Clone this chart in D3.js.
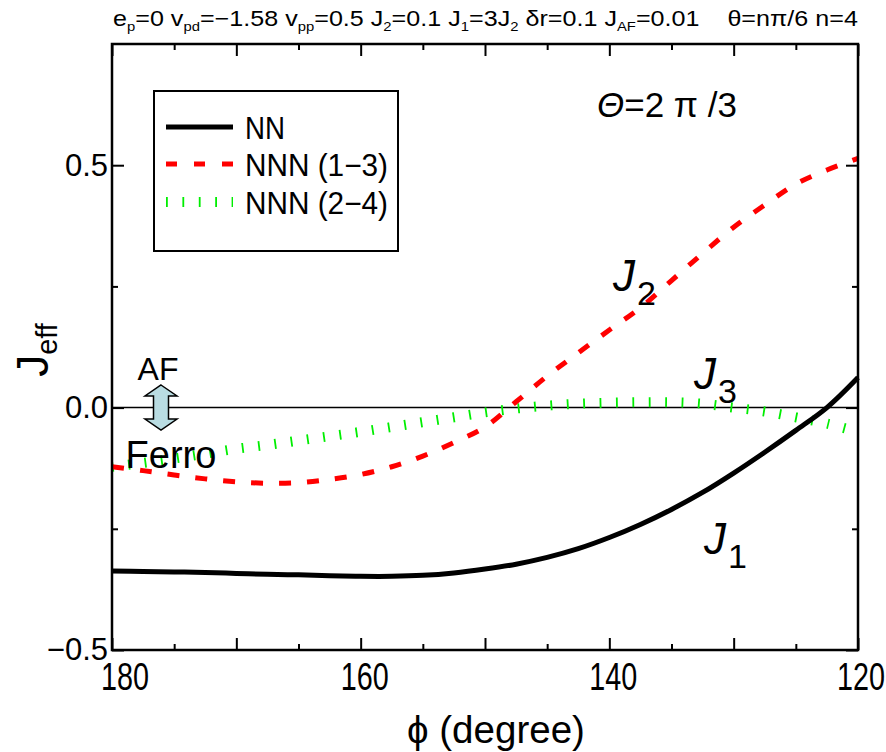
<!DOCTYPE html>
<html>
<head>
<meta charset="utf-8">
<script src="https://cdn.jsdelivr.net/npm/d3@7"></script>
<style>
  html, body { margin: 0; padding: 0; background: #fff; }
  svg { display: block; }
  text { font-family: "Liberation Sans", Arial, sans-serif; fill: #000; white-space: pre; }
</style>
</head>
<body>
<svg id="chart" width="886" height="752"></svg>
<script>
// Angle phi (degree) at which the effective couplings are sampled
const phi = [180, 177.5, 175, 172.5, 170, 167.5, 165, 162.5, 160, 157.5, 155, 152.5,
             150, 147.5, 145, 142.5, 140, 137.5, 135, 132.5, 130, 127.5, 125, 122.5, 120];

// NN coupling J1
const jNN = [-0.337, -0.338, -0.339, -0.340, -0.342, -0.344, -0.345, -0.347, -0.348, -0.348,
             -0.346, -0.341, -0.333, -0.323, -0.309, -0.291, -0.268, -0.241, -0.210, -0.175,
             -0.135, -0.092, -0.047, 0.000, 0.062];

// NNN (1-3) coupling J2
const jNNN13 = [-0.122, -0.130, -0.139, -0.147, -0.153, -0.156, -0.155, -0.148, -0.138, -0.122,
                -0.100, -0.072, -0.040, 0.012, 0.065, 0.113, 0.160, 0.206, 0.262, 0.318,
                0.372, 0.418, 0.461, 0.490, 0.514];

// NNN (2-4) coupling J3
const jNNN24 = [-0.122, -0.114, -0.105, -0.095, -0.085, -0.077, -0.068, -0.059, -0.050, -0.040,
                -0.030, -0.020, -0.010, -0.002, 0.004, 0.008, 0.010, 0.011, 0.011, 0.008,
                0.000, -0.008, -0.020, -0.033, -0.050];

const seriesNames = ["NN", "NNN (1\u22123)", "NNN (2\u22124)"];
const xMajorTicks = [180, 170, 160, 150, 140, 130, 120];
const xMinorTicks = [175, 165, 155, 145, 135, 125];
const xTickLabels = [180, 160, 140, 120];
const yMajorTicks = [-0.5, 0, 0.5];
const yMinorTicks = [-0.25, 0.25];

const svg = d3.select("#chart");
const plotLeft = 112, plotRight = 858, plotTop = 44, plotBottom = 650;

const x = d3.scaleLinear().domain([180, 120]).range([plotLeft, plotRight]);
const y = d3.scaleLinear().domain([-0.5, 0.75]).range([plotBottom, plotTop]);

const styles = [
  { color: "#000000", width: 5, dash: null },
  { color: "#ff0000", width: 5, dash: "12,16" },
  { color: "#00ee00", width: 10, dash: "1.8,14.6" }
];
const series = [jNN, jNNN13, jNNN24];

// zero line
svg.append("line")
  .attr("x1", x(180)).attr("x2", x(120))
  .attr("y1", y(0)).attr("y2", y(0))
  .attr("stroke", "#000").attr("stroke-width", 1.5);

// curves
const line = d3.line()
  .x(d => x(d[0]))
  .y(d => y(d[1]))
  .curve(d3.curveCatmullRom.alpha(0.5));

const curves = svg.append("g");
[2, 1, 0].forEach(i => {
  const pts = phi.map((p, k) => [p, series[i][k]]);
  curves.append("path")
    .datum(pts)
    .attr("d", line)
    .attr("fill", "none")
    .attr("stroke", styles[i].color)
    .attr("stroke-width", styles[i].width)
    .attr("stroke-dasharray", styles[i].dash)
    .attr("stroke-linejoin", "round");
});

// axes: ticks point inward on all four sides
const axG = svg.append("g");
function tickAxis(axis, transform, values, size) {
  axG.append("g").attr("transform", transform)
    .call(axis.tickValues(values).tickSize(size).tickFormat(""))
    .call(g => g.select(".domain").remove())
    .call(g => g.selectAll("line").attr("stroke", "#000").attr("stroke-width", 2));
}
tickAxis(d3.axisBottom(x), `translate(0,${plotBottom})`, xMajorTicks, -12);
tickAxis(d3.axisBottom(x), `translate(0,${plotBottom})`, xMinorTicks, -6);
tickAxis(d3.axisTop(x), `translate(0,${plotTop})`, xMajorTicks, -12);
tickAxis(d3.axisTop(x), `translate(0,${plotTop})`, xMinorTicks, -6);
tickAxis(d3.axisLeft(y), `translate(${plotLeft},0)`, yMajorTicks, -12);
tickAxis(d3.axisLeft(y), `translate(${plotLeft},0)`, yMinorTicks, -6);
tickAxis(d3.axisRight(y), `translate(${plotRight},0)`, yMajorTicks, -12);
tickAxis(d3.axisRight(y), `translate(${plotRight},0)`, yMinorTicks, -6);

// frame
svg.append("rect")
  .attr("x", plotLeft).attr("y", plotTop)
  .attr("width", plotRight - plotLeft).attr("height", plotBottom - plotTop)
  .attr("fill", "none").attr("stroke", "#000").attr("stroke-width", 2.5);

// y tick labels
const yLab = svg.append("g").attr("transform", `translate(${plotLeft - 4},0)`)
  .call(d3.axisLeft(y).tickValues(yMajorTicks).tickSize(0).tickPadding(0)
        .tickFormat(d3.format(".1f")));
yLab.select(".domain").remove();
yLab.selectAll("text")
  .style("font-family", "'Liberation Sans', Arial, sans-serif")
  .attr("font-size", 31).attr("fill", "#000");

// horizontally compressed text helper (narrow gothic look)
function narrowText(g, str, cx, baseline, size, width, anchor) {
  const t = g.append("text").attr("font-size", size).attr("x", 0).attr("y", 0).text(str);
  const w = t.node().getComputedTextLength();
  const s = width / w;
  let x0 = cx;
  if (anchor === "middle") x0 = cx - width / 2;
  if (anchor === "end") x0 = cx - width;
  t.attr("transform", `translate(${x0},${baseline}) scale(${s},1)`);
  return t;
}

// x tick labels
const xl = svg.append("g");
const xLabelShift = { 180: 13, 160: 4, 140: 4, 120: 3 };
xTickLabels.forEach(v => {
  narrowText(xl, String(v), x(v) + xLabelShift[v], 690, 38, 48, "middle");
});

// x axis title
narrowText(svg, "\u03d5 (degree)", 496, 743, 38, 178, "middle");

// y axis title
const yt = svg.append("text")
  .attr("transform", "translate(48,350) rotate(-90)")
  .attr("text-anchor", "middle");
yt.append("tspan").attr("font-size", 44).text("J");
yt.append("tspan").attr("font-size", 29).attr("dy", 9).text("eff");

// parameter line at the top
const title = svg.append("text").attr("font-size", 22);
const parts = [
  ["e", 0], ["p", 1], ["=0 v", 0], ["pd", 1], ["=\u22121.58 v", 0], ["pp", 1], ["=0.5 J", 0], ["2", 1],
  ["=0.1 J", 0], ["1", 1], ["=3J", 0], ["2", 1], [" \u03b4r=0.1 J", 0], ["AF", 1], ["=0.01    \u03b8=n\u03c0/6 n=4", 0]
];
let prevSub = 0;
parts.forEach(([s, sub]) => {
  const ts = title.append("tspan").text(s);
  if (sub) ts.attr("font-size", 13);
  const dy = (sub ? 5 : 0) - prevSub;
  if (dy) ts.attr("dy", dy);
  prevSub = sub ? 5 : 0;
});
{
  const w = title.node().getComputedTextLength();
  title.attr("transform", `translate(113,26) scale(${745 / w},1)`);
}

// legend
const leg = svg.append("g");
leg.append("rect").attr("x", 154).attr("y", 91).attr("width", 244).attr("height", 160)
  .attr("fill", "#fff").attr("stroke", "#000").attr("stroke-width", 2);
const legY = [127, 164, 202];
seriesNames.forEach((name, i) => {
  const ly = legY[i];
  leg.append("path")
    .attr("d", d3.line()([[166, ly], [233, ly]]))
    .attr("fill", "none")
    .attr("stroke", styles[i].color)
    .attr("stroke-width", styles[i].width)
    .attr("stroke-dasharray", i === 1 ? "11,17" : (i === 2 ? "1.8,14.6" : null));
  const tw = [40, 143, 143][i];
  narrowText(leg, name, 245, ly + 12, 31, tw, "start");
});

// panel label
const th = svg.append("text").attr("x", 597).attr("y", 117).attr("font-size", 35);
th.append("tspan").attr("font-style", "italic").text("\u0398");
th.append("tspan").text("=2 \u03c0 /3");

// coupling labels
function jLabel(px, py, sub) {
  const t = svg.append("text").attr("x", px).attr("y", py).attr("font-size", 44);
  t.append("tspan").attr("font-style", "italic").text("J");
  t.append("tspan").attr("font-size", 34).attr("dy", 14).attr("dx", 2).text(sub);
}
jLabel(613, 291, "2");
jLabel(694, 389, "3");
jLabel(704, 554, "1");

// AF / Ferro indicator
svg.append("text").attr("x", 158).attr("y", 380).attr("text-anchor", "middle")
  .attr("font-size", 32).text("AF");
svg.append("text").attr("x", 171).attr("y", 468).attr("text-anchor", "middle")
  .attr("font-size", 38).text("Ferro");
const ax = 161, ay0 = 385, ay1 = 430, hw = 16, sw = 7.5, hh = 11;
svg.append("path")
  .attr("d", d3.line()([
    [ax, ay0], [ax + hw, ay0 + hh], [ax + sw, ay0 + hh], [ax + sw, ay1 - hh], [ax + hw, ay1 - hh],
    [ax, ay1], [ax - hw, ay1 - hh], [ax - sw, ay1 - hh], [ax - sw, ay0 + hh], [ax - hw, ay0 + hh]
  ]) + "Z")
  .attr("fill", "#b9dce2").attr("stroke", "#000").attr("stroke-width", 1.5)
  .attr("stroke-linejoin", "miter");
</script>
</body>
</html>
